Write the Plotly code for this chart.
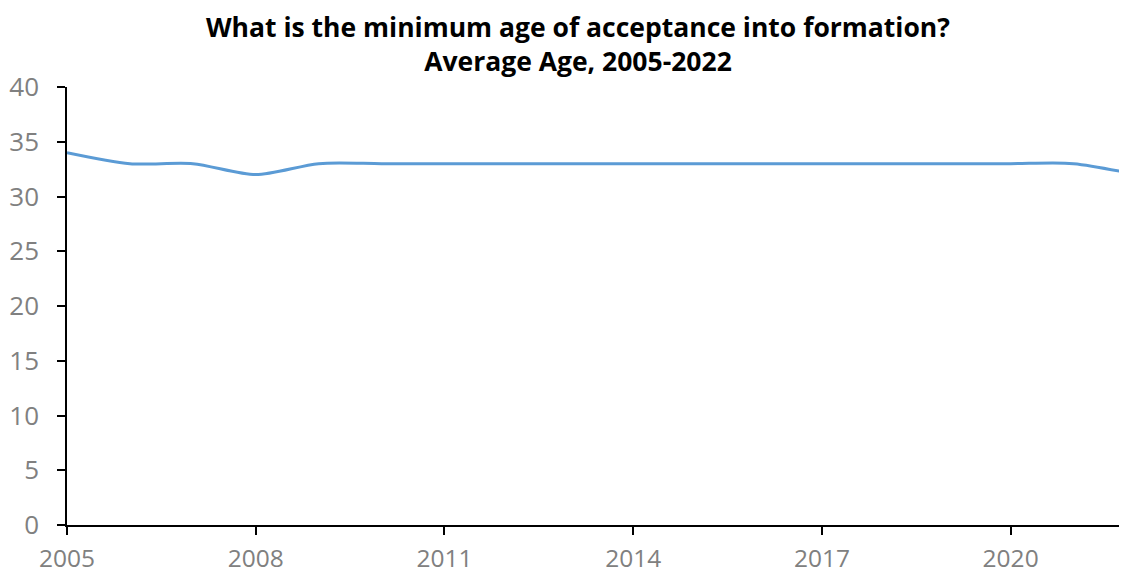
import plotly.graph_objects as go

years = list(range(2005, 2023))
avg_age = [34, 33, 33, 32, 33, 33, 33, 33, 33, 33, 33, 33, 33, 33, 33, 33, 33, 32]
x_ticks = [2005, 2008, 2011, 2014, 2017, 2020]
y_ticks = [0, 5, 10, 15, 20, 25, 30, 35, 40]
title_lines = ['What is the minimum age of acceptance into formation?',
               'Average Age, 2005-2022']

fig = go.Figure()
fig.add_trace(go.Scatter(
    x=years, y=avg_age,
    mode='lines',
    line=dict(color='#5B9BD5', width=3, shape='spline', smoothing=0.8),
    hoverinfo='x+y',
))

# title as annotation so the two lines are not clipped at the top
fig.add_annotation(
    text='<b>' + '<br>'.join(title_lines) + '</b>',
    xref='paper', yref='paper', x=0.482, y=1.18,
    xanchor='center', yanchor='top', showarrow=False, borderpad=0,
    font=dict(family='Open Sans', size=26.5, color='black'),
)

# page body has an 8px margin, so the figure is a bit smaller than the window
fig.update_layout(
    width=1119, height=569,
    paper_bgcolor='white', plot_bgcolor='white',
    margin=dict(l=59, r=0, t=79, b=52),
    showlegend=False,
    xaxis=dict(
        range=[2005, 2021.85],
        tickvals=x_ticks,
        showgrid=False, zeroline=False, automargin=False,
        showline=True, linecolor='black', linewidth=1.5,
        ticks='outside', ticklen=8, tickcolor='black', tickwidth=1.5,
        tickfont=dict(family='Open Sans', size=24.5, color='#808080'),
        ticklabelstandoff=3,
    ),
    yaxis=dict(
        range=[0, 40],
        tickvals=y_ticks,
        showgrid=False, zeroline=False, automargin=False,
        showline=True, linecolor='black', linewidth=1.5,
        ticks='outside', ticklen=8, tickcolor='black', tickwidth=1.5,
        tickfont=dict(family='Open Sans', size=26, color='#808080'),
        ticklabelstandoff=13,
    ),
)

fig.write_html("out.html")
